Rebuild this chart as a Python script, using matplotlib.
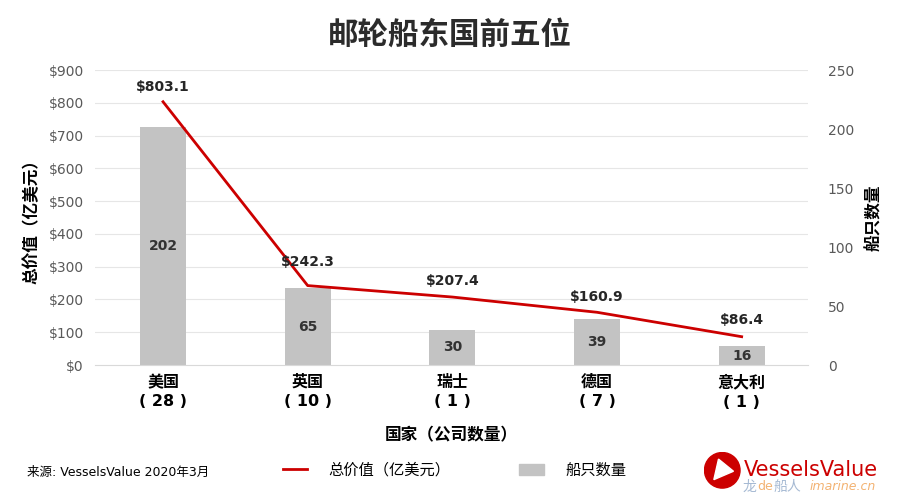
import matplotlib.pyplot as plt
import numpy as np
from matplotlib.lines import Line2D
from matplotlib.patches import Patch, Circle, Polygon

plt.rcParams['font.family'] = ['DejaVu Sans', 'Noto Sans CJK SC']

countries = ['美国', '英国', '瑞士', '德国', '意大利']
companies = [28, 10, 1, 7, 1]
value = [803.1, 242.3, 207.4, 160.9, 86.4]   # 亿美元
ships = [202, 65, 30, 39, 16]

red = '#CC0000'
grey = '#C3C3C3'
tick_c = '#595959'

fig = plt.figure(figsize=(9, 4.99), dpi=100)
ax1 = fig.add_axes([0.1056, 0.2685, 0.7924, 0.5912])
ax2 = ax1.twinx()
ax1.set_zorder(ax2.get_zorder() + 1)
ax1.patch.set_visible(False)

x = np.arange(len(countries))
yticks = list(range(0, 901, 100))

# gridlines for the left scale, drawn under the bars
for t in yticks[1:]:
    ax2.axhline(t * 250 / 900, color='#E6E6E6', lw=0.8, zorder=0)

# bars on the right axis
ax2.bar(x, ships, width=0.32, color=grey, zorder=2)
for i, s in enumerate(ships):
    ax2.text(i, s / 2, str(s), ha='center', va='center', fontsize=10,
             fontweight='bold', color='#333333', zorder=3)
ax2.set_ylim(0, 250)
ax2.set_yticks(range(0, 251, 50))
ax2.tick_params(axis='y', length=0, labelcolor=tick_c, labelsize=10, pad=14)
ax2.set_ylabel('船只数量', fontsize=12, fontweight='bold', labelpad=8)

# line on the left axis
ax1.plot(x, value, color=red, lw=2, zorder=3)
offs = [10.5, 17, 11.5, 11, 12]
for i, v in enumerate(value):
    ax1.annotate('$%.1f' % v, (i, v), xytext=(0, offs[i]), textcoords='offset points',
                 ha='center', va='center', fontsize=10, fontweight='bold', color='#262626')
ax1.set_ylim(0, 900)
ax1.set_yticks(yticks)
ax1.set_yticklabels(['$%d' % t for t in yticks])
ax1.tick_params(axis='y', length=0, labelcolor=tick_c, labelsize=10, pad=8)
ax1.set_xlim(-0.47, 4.46)
ax1.set_xticks(x)
ax1.set_xticklabels(['%s\n( %d )' % (c, n) for c, n in zip(countries, companies)],
                    fontsize=11.5, fontweight='bold', linespacing=1.35)
ax1.tick_params(axis='x', length=0, pad=7)
ax1.set_ylabel('总价值（亿美元）', fontsize=12, fontweight='bold', labelpad=6)
ax1.set_xlabel('国家（公司数量）', fontsize=12, fontweight='bold', labelpad=12)

for a in (ax1, ax2):
    for sp in a.spines.values():
        sp.set_visible(False)
ax1.spines['bottom'].set_visible(True)
ax1.spines['bottom'].set_color('#D9D9D9')

fig.text(0.5, 0.93, '邮轮船东国前五位', ha='center', va='center', fontsize=22,
         fontweight='bold', color='#2B2B2B')

# legend
handles = [Line2D([], [], color=red, lw=2), Patch(color=grey)]
fig.legend(handles, ['总价值（亿美元）', '船只数量'], loc='center', bbox_to_anchor=(0.505, 0.058),
           ncol=2, frameon=False, fontsize=11, columnspacing=4.5, handlelength=1.6,
           handletextpad=1.4)

fig.text(0.03, 0.054, '来源: VesselsValue 2020年3月', fontsize=9, va='center')

# logo
lax = fig.add_axes([0.775, 0.02, 0.055, 0.075])
lax.set_xlim(-1, 1)
lax.set_ylim(-1, 1)
lax.set_aspect('equal')
lax.axis('off')
lax.add_patch(Circle((0, 0), 0.95, color=red))
lax.add_patch(Polygon([[-0.45, -0.5], [-0.2, 0.6], [0.6, -0.05]], color='white'))
fig.text(0.826, 0.058, 'VesselsValue', fontsize=15, color=red, va='center', ha='left')
fig.text(0.825, 0.025, '龙', fontsize=10, color='#8FA8C8', alpha=0.8, va='center')
fig.text(0.841, 0.025, 'de', fontsize=9, color='#F0A050', alpha=0.8, va='center')
fig.text(0.86, 0.025, '船人', fontsize=10, color='#8FA8C8', alpha=0.8, va='center')
fig.text(0.9, 0.025, 'imarine.cn', fontsize=9, color='#F0A050', alpha=0.8, va='center',
         style='italic')

plt.savefig('out.png', dpi=100)
